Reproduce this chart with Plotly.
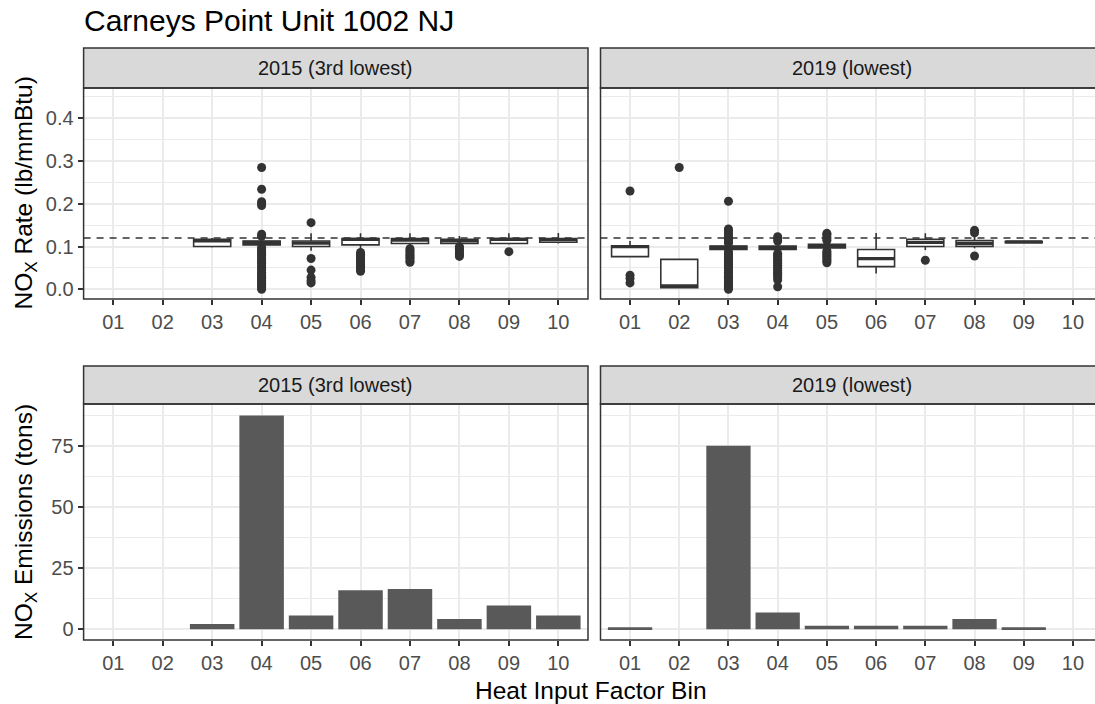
import plotly.graph_objects as go

# ---------------- data ----------------
bins = ["01", "02", "03", "04", "05", "06", "07", "08", "09", "10"]
title_text = "Carneys Point Unit 1002 NJ"
panel_labels = ["2015 (3rd lowest)", "2019 (lowest)"]
reference_rate = 0.12

# 2015 NOx rate box stats (bins present)
box15_bins = ["03", "04", "05", "06", "07", "08", "09", "10"]
box15_lf = [0.098, 0.100, 0.090, 0.090, 0.100, 0.103, 0.105, 0.107]
box15_q1 = [0.100, 0.104, 0.100, 0.104, 0.107, 0.107, 0.107, 0.110]
box15_med = [0.113, 0.110, 0.108, 0.117, 0.115, 0.113, 0.117, 0.116]
box15_q3 = [0.117, 0.113, 0.113, 0.119, 0.119, 0.117, 0.119, 0.119]
box15_uf = [0.120, 0.121, 0.131, 0.131, 0.131, 0.125, 0.131, 0.132]
out15 = {
    "04": [0.285, 0.234, 0.205, 0.200, 0.196, 0.129, 0.124,
           0.098, 0.094, 0.090, 0.086, 0.082, 0.078, 0.073, 0.069, 0.065,
           0.061, 0.057, 0.052, 0.048, 0.044, 0.040, 0.036, 0.032, 0.028,
           0.024, 0.020, 0.016, 0.012, 0.008, 0.004, 0.000],
    "05": [0.156, 0.072, 0.045, 0.028, 0.020, 0.015],
    "06": [0.086, 0.082, 0.078, 0.074, 0.070, 0.066, 0.062, 0.058, 0.054,
           0.050, 0.046, 0.042],
    "07": [0.095, 0.091, 0.087, 0.083, 0.079, 0.075, 0.071, 0.067, 0.063],
    "08": [0.100, 0.096, 0.092, 0.088, 0.084, 0.080, 0.077],
    "09": [0.088],
}

# 2019 NOx rate box stats (bins present)
box19_bins = ["01", "02", "03", "04", "05", "06", "07", "08", "09"]
box19_lf = [0.076, 0.002, 0.090, 0.088, 0.092, 0.037, 0.092, 0.096, 0.108]
box19_q1 = [0.0765, 0.004, 0.093, 0.093, 0.097, 0.053, 0.100, 0.100, 0.109]
box19_med = [0.100, 0.008, 0.098, 0.097, 0.101, 0.072, 0.110, 0.107, 0.111]
box19_q3 = [0.102, 0.070, 0.101, 0.101, 0.105, 0.093, 0.117, 0.114, 0.112]
box19_uf = [0.113, 0.070, 0.106, 0.106, 0.110, 0.132, 0.131, 0.125, 0.113]
out19 = {
    "01": [0.230, 0.033, 0.025, 0.015],
    "02": [0.285],
    "03": [0.206, 0.141, 0.137, 0.132, 0.127, 0.122, 0.117, 0.112, 0.108,
           0.088, 0.084, 0.080, 0.076, 0.072, 0.068, 0.064, 0.060, 0.056,
           0.052, 0.048, 0.044, 0.040, 0.036, 0.032, 0.028, 0.024, 0.020,
           0.016, 0.012, 0.008, 0.004, 0.000],
    "04": [0.123, 0.118, 0.113, 0.084, 0.080, 0.076, 0.072, 0.068, 0.064,
           0.060, 0.056, 0.052, 0.048, 0.044, 0.040, 0.036, 0.032, 0.027,
           0.022, 0.006],
    "05": [0.131, 0.128, 0.123, 0.118, 0.114, 0.090, 0.086, 0.082, 0.078,
           0.074, 0.070, 0.066, 0.062],
    "07": [0.068],
    "08": [0.138, 0.132, 0.078],
}

# NOx emissions (tons)
emis15 = [0, 0, 2.2, 87.5, 5.6, 16.0, 16.5, 4.2, 9.7, 5.6]
emis19 = [0.8, 0, 75.1, 6.9, 1.5, 1.5, 1.5, 4.2, 0.8, 0]

# ---------------- style ----------------
W, H = 1095, 704
FONT = "Liberation Sans, Arial, sans-serif"
DARK = "#333333"
GRID = "#EBEBEB"
TICKC = "#4D4D4D"
TICK_SIZE = 20
STRIP_SIZE = 20
AXIS_SIZE = 24.5
TITLE_SIZE = 30
BOX_W = 0.75

pos = {b: i + 1 for i, b in enumerate(bins)}


def px_x(p):
    return p / W


def px_y(p):
    return 1 - p / H


L_X = [px_x(83.6), px_x(588)]
R_X = [px_x(600.5), 1.0]
TOP_Y = [px_y(299), px_y(88)]
BOT_Y = [px_y(640), px_y(404)]

fig = go.Figure()


def add_box(xaxis, yaxis, bl, lf, q1, med, q3, uf, outs):
    fig.add_trace(go.Box(
        x=[pos[b] for b in bl], q1=q1, median=med, q3=q3,
        lowerfence=lf, upperfence=uf, width=BOX_W, whiskerwidth=0,
        fillcolor="white", line=dict(color=DARK, width=1.6),
        boxpoints=False, xaxis=xaxis, yaxis=yaxis, showlegend=False,
        orientation="v"))
    # thicker median bar (ggplot style)
    mx, my = [], []
    for b, m in zip(bl, med):
        mx += [pos[b] - BOX_W / 2, pos[b] + BOX_W / 2, None]
        my += [m, m, None]
    fig.add_trace(go.Scatter(
        x=mx, y=my, mode="lines", line=dict(color=DARK, width=3.2),
        xaxis=xaxis, yaxis=yaxis, showlegend=False, hoverinfo="skip"))
    ox, oy = [], []
    for b, vals in outs.items():
        for v in vals:
            ox.append(pos[b])
            oy.append(v)
    fig.add_trace(go.Scatter(
        x=ox, y=oy, mode="markers",
        marker=dict(color=DARK, size=9, line=dict(width=0)),
        xaxis=xaxis, yaxis=yaxis, showlegend=False))


add_box("x", "y", box15_bins, box15_lf, box15_q1, box15_med, box15_q3,
        box15_uf, out15)
add_box("x2", "y2", box19_bins, box19_lf, box19_q1, box19_med, box19_q3,
        box19_uf, out19)

for xa, ya, vals in (("x3", "y3", emis15), ("x4", "y4", emis19)):
    fig.add_trace(go.Bar(
        x=[pos[b] for b in bins], y=vals, width=0.9,
        marker=dict(color="#595959", line=dict(width=0)),
        xaxis=xa, yaxis=ya, showlegend=False))

xcommon = dict(
    tickmode="array", tickvals=[pos[b] for b in bins], ticktext=bins,
    showgrid=True, gridcolor=GRID, gridwidth=1.6, zeroline=False,
    ticks="outside", ticklen=5, tickwidth=1.5, tickcolor=DARK,
    tickfont=dict(family=FONT, size=TICK_SIZE, color=TICKC), showline=False,
)
ycommon = dict(
    showgrid=True, gridcolor=GRID, gridwidth=1.6, zeroline=False,
    ticks="outside", ticklen=5, tickwidth=1.5, tickcolor=DARK,
    tickfont=dict(family=FONT, size=TICK_SIZE, color=TICKC), showline=False,
)

L_RANGE = [0.4, 10.6]
R_RANGE = [0.4, 0.4 + (W - 600.5) / ((1102.5 - 600.5) / 10.2)]
TOP_RANGE = [-0.0227, 0.471]
BOT_RANGE = [-4.38, 92.2]

fig.update_layout(
    xaxis=dict(xcommon, domain=L_X, range=L_RANGE, anchor="y"),
    xaxis2=dict(xcommon, domain=R_X, range=R_RANGE, anchor="y2"),
    xaxis3=dict(xcommon, domain=L_X, range=L_RANGE, anchor="y3"),
    xaxis4=dict(xcommon, domain=R_X, range=R_RANGE, anchor="y4"),
    yaxis=dict(ycommon, domain=TOP_Y, range=TOP_RANGE, anchor="x",
               tick0=0, dtick=0.1, tickformat=".1f",
               minor=dict(dtick=0.05, showgrid=True, gridcolor=GRID,
                          gridwidth=0.9)),
    yaxis2=dict(ycommon, domain=TOP_Y, range=TOP_RANGE, anchor="x2",
                tick0=0, dtick=0.1, showticklabels=False, ticks="",
                minor=dict(dtick=0.05, showgrid=True, gridcolor=GRID,
                           gridwidth=0.9)),
    yaxis3=dict(ycommon, domain=BOT_Y, range=BOT_RANGE, anchor="x3",
                tick0=0, dtick=25,
                minor=dict(dtick=12.5, showgrid=True, gridcolor=GRID,
                           gridwidth=0.9)),
    yaxis4=dict(ycommon, domain=BOT_Y, range=BOT_RANGE, anchor="x4",
                tick0=0, dtick=25, showticklabels=False, ticks="",
                minor=dict(dtick=12.5, showgrid=True, gridcolor=GRID,
                           gridwidth=0.9)),
    width=W, height=H, margin=dict(l=0, r=0, t=0, b=0, autoexpand=False),
    paper_bgcolor="white", plot_bgcolor="white",
    font=dict(family=FONT), showlegend=False, hovermode=False,
)

shapes = []
strip_top = 40 / 211
strip_bot = 38 / 236
panels = [("x", "y", 1.0, strip_top), ("x2", "y2", 1.02, strip_top),
          ("x3", "y3", 1.0, strip_bot), ("x4", "y4", 1.02, strip_bot)]
for xa, ya, x1, sh in panels:
    xr, yr = xa + " domain", ya + " domain"
    shapes.append(dict(type="rect", xref=xr, yref=yr, x0=0, x1=x1, y0=1,
                       y1=1 + sh, fillcolor="#D9D9D9",
                       line=dict(color=DARK, width=1.5), layer="above"))
    shapes.append(dict(type="rect", xref=xr, yref=yr, x0=0, x1=x1, y0=0,
                       y1=1, fillcolor="rgba(0,0,0,0)",
                       line=dict(color=DARK, width=1.5), layer="above"))
# reference dashed line on rate panels
for xa, ya, x1 in (("x", "y", 1.0), ("x2", "y2", 1.02)):
    shapes.append(dict(type="line", xref=xa + " domain", yref=ya, x0=0,
                       x1=x1, y0=reference_rate, y1=reference_rate,
                       line=dict(color=DARK, width=1.5, dash="7px,6px"),
                       layer="above"))
fig.update_layout(shapes=shapes)

ann = []
ann.append(dict(text=title_text, x=px_x(82), y=px_y(21), xref="paper",
                yref="paper", xanchor="left", yanchor="middle",
                showarrow=False, font=dict(family=FONT, size=TITLE_SIZE,
                                           color="black")))
strip_font = dict(family=FONT, size=STRIP_SIZE, color="#1A1A1A")
for cx, cy, t in ((335.8, 68, panel_labels[0]), (851.5, 68, panel_labels[1]),
                  (335.8, 385, panel_labels[0]),
                  (851.5, 385, panel_labels[1])):
    ann.append(dict(text=t, x=px_x(cx), y=px_y(cy), xref="paper",
                    yref="paper", xanchor="center", yanchor="middle",
                    showarrow=False, font=strip_font))
axis_font = dict(family=FONT, size=AXIS_SIZE, color="black")
ann.append(dict(text="NO<sub>X</sub> Rate (lb/mmBtu)", x=px_x(25),
                y=px_y(193.5), xref="paper", yref="paper", textangle=-90,
                xanchor="center", yanchor="middle", showarrow=False,
                font=axis_font))
ann.append(dict(text="NO<sub>X</sub> Emissions (tons)", x=px_x(25),
                y=px_y(522), xref="paper", yref="paper", textangle=-90,
                xanchor="center", yanchor="middle", showarrow=False,
                font=axis_font))
ann.append(dict(text="Heat Input Factor Bin", x=px_x(591), y=px_y(690),
                xref="paper", yref="paper", xanchor="center",
                yanchor="middle", showarrow=False, font=axis_font))
fig.update_layout(annotations=ann)

fig.write_html("out.html", config={"displayModeBar": False},
               post_script="document.body.style.margin='0';"
                           "document.body.style.overflow='hidden';")
